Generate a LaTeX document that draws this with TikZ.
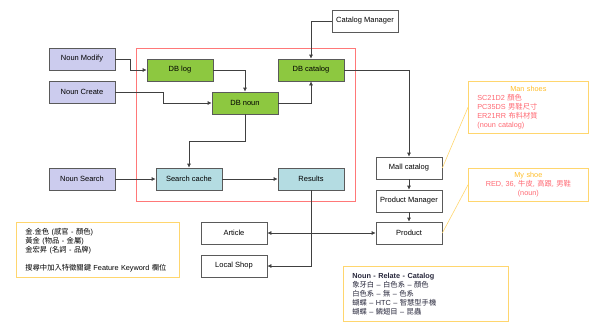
\documentclass[tikz,border=0pt]{standalone}
\usepackage{fontspec}
\setmainfont{Liberation Sans}
\newfontfamily\cjk{Noto Sans CJK TC}
\usetikzlibrary{
    arrows.meta,
    positioning
}
\definecolor{InputPurple}{RGB}{204,204,238}
\definecolor{DbGreen}{RGB}{141,200,64}
\definecolor{CacheTeal}{RGB}{180,220,226}
\definecolor{BoxLine}{RGB}{90,90,90}
\definecolor{LinkGray}{RGB}{64,64,64}
\definecolor{ZoneRed}{RGB}{255,120,120}
\definecolor{NoteYellow}{RGB}{255,214,110}
\definecolor{NoteTitle}{RGB}{255,190,40}
\definecolor{NoteBody}{RGB}{255,105,115}
\definecolor{NoteInk}{RGB}{40,40,60}
\newcommand{\zh}[1]{{\cjk #1}}

\begin{document}
\begin{tikzpicture}[
    x=1pt, y=-1pt,
    >={Latex[length=4pt,width=4pt]},
    box/.style={draw=BoxLine, line width=0.7pt, minimum width=66pt,
        minimum height=22pt, inner sep=0pt,
        font=\fontsize{7.5}{9}\selectfont},
    inbox/.style={box, fill=InputPurple},
    dbbox/.style={box, fill=DbGreen},
    cachebox/.style={box, fill=CacheTeal},
    plainbox/.style={box, fill=white},
    note/.style={draw=NoteYellow, line width=0.7pt, fill=white,
        inner xsep=9pt, inner ysep=0pt, align=left,
        font=\fontsize{7.3}{9}\selectfont},
    link/.style={->, draw=LinkGray, line width=0.7pt},
    callout/.style={draw=NoteYellow, line width=0.6pt}
]

\useasboundingbox (0,0) rectangle (600,335);

% inputs
\node[inbox] (modify) at (82,59) {Noun Modify};
\node[inbox] (create) at (82,92) {Noun Create};
\node[inbox] (search) at (82,179) {Noun Search};

% database zone
\draw[ZoneRed, line width=0.7pt] (136,48) rectangle (355,201);

\node[dbbox] (dblog) at (180,70) {DB log};
\node[dbbox] (dbnoun) at (245,103) {DB noun};
\node[dbbox] (dbcatalog) at (311,70) {DB catalog};
\node[cachebox] (cache) at (189,179) {Search cache};
\node[cachebox] (results) at (311,179) {Results};

% right side
\node[plainbox] (catmgr) at (365,21) {Catalog Manager};
\node[plainbox] (mall) at (409,168) {Mall catalog};
\node[plainbox] (prodmgr) at (409,201) {Product Manager};
\node[plainbox] (product) at (409,233) {Product};
\node[plainbox] (article) at (234,233) {Article};
\node[plainbox] (localshop) at (234,266) {Local Shop};

% notes
\node[note, anchor=north west, text width=145pt, minimum height=55pt]
    (kwnote) at (16,222) {%
    \zh{金.金色} (\zh{感官} - \zh{顏色})\\
    \zh{黃金} (\zh{物品} - \zh{金屬})\\
    \zh{金宏昇} (\zh{名詞} - \zh{品牌})\\[9pt]
    \zh{搜尋中加入特徵關鍵} Feature Keyword \zh{欄位}};

\node[note, anchor=north west, text width=102pt, minimum height=52pt]
    (manshoes) at (468,81) {%
    \makebox[102pt]{\color{NoteTitle}Man shoes}\\
    \color{NoteBody}SC21D2 \zh{顏色}\\
    PC35DS \zh{男鞋尺寸}\\
    ER21RR \zh{布料材質}\\
    (noun catalog)};

\node[note, anchor=north west, text width=102pt, minimum height=33pt,
    align=center] (myshoe) at (468,168) {%
    \textcolor{NoteTitle}{My shoe}\\
    \color{NoteBody}RED, 36, \zh{牛皮}, \zh{高跟}, \zh{男鞋}\\
    (noun)};

\node[note, anchor=north west, text width=147pt, minimum height=55pt,
    text=NoteInk] (relnote) at (343,266) {%
    \textbf{Noun - Relate - Catalog}\\
    \zh{象牙白} -- \zh{白色系} -- \zh{顏色}\\
    \zh{白色系} -- \zh{無} -- \zh{色系}\\
    \zh{蝴蝶} -- HTC -- \zh{智慧型手機}\\
    \zh{蝴蝶} -- \zh{鱗翅目} -- \zh{昆蟲}};

% connectors
\draw[link] (modify.east) -- ++(15,0) |- (dblog.west);
\draw[link] (create.east) -- ++(48,0) |- (dbnoun.west);
\draw[link] (dblog.east) -| (dbnoun.north);
\draw[link] (dbnoun.east) -| (dbcatalog.south);
\draw[link] (catmgr.west) -| (dbcatalog.north);
\draw[link] (dbcatalog.east) -| (mall.north);
\draw[link] (dbnoun.south) -- ++(0,27) -| (cache.north);
\draw[link] (search) -- (cache);
\draw[link] (cache) -- (results);
\draw[link] (results.south) |- (article.east);
\draw[link] (results.south) |- (product.west);
\draw[link] (results.south) |- (localshop.east);
\draw[link] (mall) -- (prodmgr);
\draw[link] (prodmgr) -- (product);

\draw[callout] (mall.east) -- (manshoes.west);
\draw[callout] (product.east) -- (myshoe.west);

\end{tikzpicture}
\end{document}
